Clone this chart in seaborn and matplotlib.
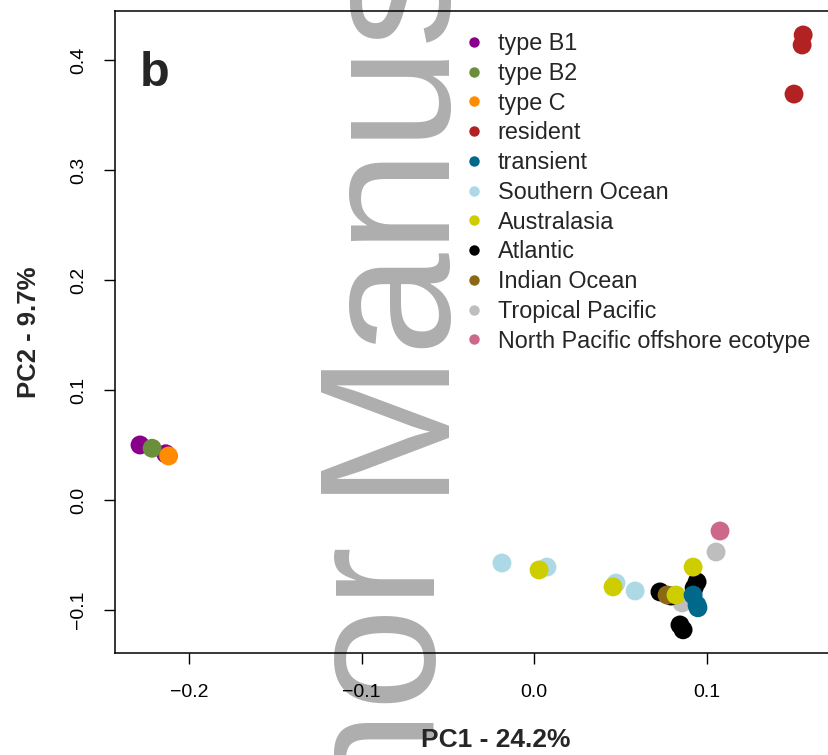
import pandas as pd
import seaborn as sns
import matplotlib.pyplot as plt
from matplotlib.lines import Line2D

# PCA scores, one small list per group
groups = [
    "type B1", "type B2", "type C", "resident", "transient", "Southern Ocean",
    "Australasia", "Atlantic", "Indian Ocean", "Tropical Pacific",
    "North Pacific offshore ecotype",
]
colors = [
    "#8B008B", "#6B8E3A", "#FF8C00", "#B22222", "#00688B", "#ADD8E6",
    "#CDCD00", "#000000", "#8B6914", "#BEBEBE", "#CD6889",
]

b1_x = [-0.2284, -0.2135]
b1_y = [0.050, 0.042]
b2_x = [-0.2214]
b2_y = [0.047]
c_x = [-0.2118]
c_y = [0.040]
resident_x = [0.1560, 0.1554, 0.1507]
resident_y = [0.4227, 0.4136, 0.3690]
southern_x = [-0.0186, 0.0075, 0.0475, 0.0586]
southern_y = [-0.0573, -0.0610, -0.0755, -0.0827]
austral_x = [0.0029, 0.0458, 0.0823, 0.0922]
austral_y = [-0.0636, -0.0790, -0.0864, -0.0610]
tropical_x = [0.0858, 0.1055]
tropical_y = [-0.0936, -0.0473]
atlantic_x = [0.0730, 0.0794, 0.0945, 0.0928, 0.0846, 0.0864]
atlantic_y = [-0.0836, -0.0873, -0.0745, -0.0800, -0.1136, -0.1180]
indian_x = [0.0771]
indian_y = [-0.0864]
transient_x = [0.0922, 0.0945, 0.0950]
transient_y = [-0.0864, -0.0955, -0.0980]
npo_x = [0.1078]
npo_y = [-0.0282]

# drawing order (later ones on top)
layers = [
    ("type B1", b1_x, b1_y), ("type B2", b2_x, b2_y), ("type C", c_x, c_y),
    ("resident", resident_x, resident_y),
    ("Southern Ocean", southern_x, southern_y),
    ("Tropical Pacific", tropical_x, tropical_y),
    ("Atlantic", atlantic_x, atlantic_y),
    ("Indian Ocean", indian_x, indian_y),
    ("Australasia", austral_x, austral_y),
    ("transient", transient_x, transient_y),
    ("North Pacific offshore ecotype", npo_x, npo_y),
]
df = pd.concat(
    [pd.DataFrame({"group": g, "PC1": xs, "PC2": ys}) for g, xs, ys in layers],
    ignore_index=True,
)
palette = dict(zip(groups, colors))

sns.set_style("ticks")
plt.rcParams["font.family"] = ["Liberation Sans", "DejaVu Sans"]

fig = plt.figure(figsize=(8.29, 7.55), dpi=100)
W, H = 829, 755
ax = fig.add_axes([115 / W, 102 / H, (877 - 115) / W, 642 / H])
ax.patch.set_alpha(0)

sns.scatterplot(
    data=df, x="PC1", y="PC2", hue="group", palette=palette,
    s=185, linewidth=0, alpha=1, legend=False, ax=ax,
)

ax.set_xlim(-0.2429, 0.1988)
ax.set_ylim(-0.1391, 0.4445)
ax.set_xticks([-0.2, -0.1, 0.0, 0.1])
ax.set_xticklabels(["\u22120.2", "\u22120.1", "0.0", "0.1"])
ax.set_yticks([-0.1, 0.0, 0.1, 0.2, 0.3, 0.4])
ax.set_yticklabels(["\u22120.1", "0.0", "0.1", "0.2", "0.3", "0.4"],
                   rotation=90, va="center")
ax.tick_params(axis="both", length=8, width=1, labelsize=14,
               color="black", labelcolor="black")
ax.tick_params(axis="x", pad=14)
ax.tick_params(axis="y", pad=12)
for sp in ax.spines.values():
    sp.set_linewidth(1.1)
    sp.set_color("black")

ax.set_xlabel("PC1 - 24.2%", fontsize=19, fontweight="bold", labelpad=20)
ax.set_ylabel("PC2 - 9.7%", fontsize=18.5, fontweight="bold", labelpad=21)

fig.text(140 / W, 1 - 86 / H, "b", fontsize=35, fontweight="bold",
         ha="left", va="baseline")

handles = [
    Line2D([], [], marker="o", linestyle="", markersize=7.5,
           markerfacecolor=c, markeredgewidth=0, label=g)
    for g, c in zip(groups, colors)
]
ax.legend(
    handles=handles, loc="upper left", frameon=False, fontsize=16.8,
    bbox_to_anchor=(465 / W, 1 - 32 / H), bbox_transform=fig.transFigure,
    borderpad=0, borderaxespad=0, handlelength=0.8, handletextpad=0.6,
    labelspacing=0.29,
)

# manuscript watermark, behind the axes frame
wm = dict(fontsize=133, color="#AEAEAE", rotation=90, rotation_mode="anchor",
          va="baseline", zorder=-1, transform=fig.transFigure)
fig.text(435 / W, 1 - 545 / H, "Author", ha="right", **wm)
fig.text(435 / W, 1 - 493 / H, "Manuscript", ha="left", **wm)

fig.savefig("out.png", dpi=100)
